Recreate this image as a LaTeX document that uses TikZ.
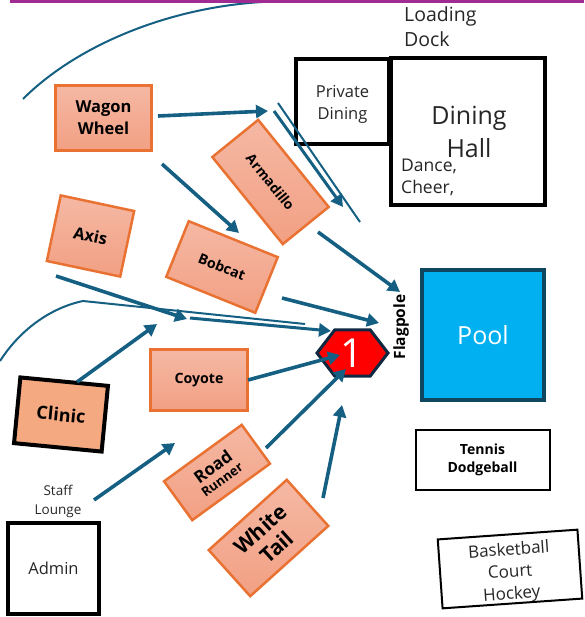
\documentclass[tikz,border=0pt]{standalone}
\usepackage{fontspec}
\setmainfont{Open Sans}
\usetikzlibrary{arrows.meta,shapes.geometric}
\definecolor{flow}{HTML}{156082}
\definecolor{orangeedge}{HTML}{E97132}
\definecolor{salmontop}{HTML}{F5B8A4}
\definecolor{salmonbot}{HTML}{F2A083}
\definecolor{pooledge}{HTML}{0F4761}
\definecolor{poolfill}{HTML}{00B0F0}
\definecolor{clinicfill}{HTML}{F4A980}
\definecolor{hexedge}{HTML}{0E2841}
\definecolor{band}{HTML}{A02B93}
\newcommand{\fs}[2]{\fontsize{#1}{#2}\selectfont}
\tikzset{
  site/.style={draw=orangeedge,line width=2.5pt,top color=salmontop,bottom color=salmonbot,inner sep=0pt,align=center,text=black},
  bldg/.style={draw=black,line width=4pt,fill=white,inner sep=0pt,align=center,text=black!85},
  plain/.style={inner sep=0pt,align=left,text=black!85},
  flowarrow/.style={draw=flow,line width=3.6pt,-{Triangle[length=12pt,width=13pt]}},
  flowthin/.style={draw=flow,line width=3pt,-{Triangle[length=12pt,width=13pt]}},
  flowline/.style={draw=flow,line width=2pt},
}
\begin{document}
\begin{tikzpicture}[x=1pt,y=-1pt]
\useasboundingbox (0,0) rectangle (584,617);
% buildings
\node[bldg,minimum width=93pt,minimum height=85pt,font=\fs{16.5}{22}] (private) at (342.5,101.5) {\rule{0pt}{17pt}Private\\Dining};
\node[bldg,minimum width=154pt,minimum height=147pt] (dining) at (468,132) {};
\node[inner sep=0pt,align=center,text=black!85,font=\fs{25}{33}] (diningtext) at (469,132) {Dining\\Hall};
\node[plain,font=\fs{17.5}{22},anchor=west] (dance) at (401,177.5) {Dance,\\Cheer,};
\node[plain,font=\fs{19.5}{25},anchor=west] (loading) at (404,27) {Loading\\Dock};
\node[draw=pooledge,line width=3.2pt,fill=poolfill,minimum width=122pt,minimum height=130pt,text=white,font=\fs{25}{28},inner sep=0pt] (pool) at (483,335) {Pool};
\node[draw=black,line width=2pt,fill=white,minimum width=134pt,minimum height=60pt,inner sep=0pt,align=center,font=\bfseries\fs{14}{18}] (tennis) at (482.5,459.5) {Tennis\\Dodgeball};
\node[draw=black,line width=2pt,fill=white,minimum width=140pt,minimum height=64pt,inner sep=0pt,align=center,rotate=4,text=black!85,font=\fs{17}{22}] (basket) at (510,569) {\rule{0pt}{21pt}Basketball\\Court\\Hockey};
\node[bldg,minimum width=91pt,minimum height=91pt,font=\fs{16.5}{18}] (admin) at (53.5,568.5) {Admin};
\node[inner sep=0pt,align=center,text=black!85,font=\fs{13.5}{19}] (staff) at (58,501.5) {Staff\\Lounge};
% orange sites
\node[site,minimum width=96pt,minimum height=65pt,font=\bfseries\fs{16.5}{22}] (wagon) at (103.5,118) {Wagon\\Wheel};
\node[site,minimum width=112pt,minimum height=59pt,rotate=-51,font=\bfseries\fs{13.8}{15}] (armadillo) at (270.5,182) {Armadillo};
\node[site,minimum width=75pt,minimum height=67pt,rotate=-12,font=\bfseries\fs{16.4}{18}] (axis) at (90.5,236) {Axis};
\node[site,minimum width=96pt,minimum height=60pt,rotate=-22,font=\bfseries\fs{14.2}{15}] (bobcat) at (222,267) {Bobcat};
\node[site,minimum width=97pt,minimum height=61pt,font=\bfseries\fs{14.2}{15}] (coyote) at (199,380) {Coyote};
\node[draw=black,line width=4pt,fill=clinicfill,minimum width=88pt,minimum height=66pt,rotate=-5.5,inner sep=0pt,font=\bfseries\fs{18}{20}] (clinic) at (61,414.5) {Clinic};
\node[site,minimum width=96pt,minimum height=48pt,rotate=36,font=\bfseries\fs{17}{15}] (road) at (217,472.5) {Road\\[-1pt]{\fs{13}{13}Runner}};
\node[site,minimum width=105pt,minimum height=62pt,rotate=42,font=\bfseries\fs{21}{24}] (white) at (268.5,538) {White\\Tail};
% flagpole marker
\node[regular polygon,regular polygon sides=6,draw=hexedge,line width=3pt,fill=red,minimum size=71pt,inner sep=0pt,yscale=0.75] (hex) at (352.5,353) {};
\node[inner sep=0pt,text=white,font=\fs{40}{44}] (one) at (352,353) {1};
\node[inner sep=0pt,rotate=90,font=\bfseries\fs{15.5}{16},text=black] (flag) at (401,327) {Flagpole};
% free ends
\coordinate (a1s) at (158,116); \coordinate (a1e) at (268,111);
\coordinate (a2s) at (162,164); \coordinate (a2e) at (239,233);
\coordinate (a3s) at (274,111); \coordinate (a3e) at (343,207);
\coordinate (l1s) at (278,103); \coordinate (l1e) at (360,222);
\coordinate (a4s) at (318,232); \coordinate (a4e) at (400,292);
\coordinate (a5s) at (282,298); \coordinate (a5e) at (379,323);
\coordinate (a6s) at (56,276); \coordinate (a6e) at (187,319);
\coordinate (a7s) at (190,318); \coordinate (a7e) at (331,331);
\coordinate (l2s) at (0,361); \coordinate (l2m) at (83,301); \coordinate (l2e) at (305,324);
\coordinate (a8s) at (77,382); \coordinate (a8e) at (157,324);
\coordinate (a9s) at (94,500); \coordinate (a9e) at (175,443);
\coordinate (a10s) at (248,380); \coordinate (a10e) at (340,355);
\coordinate (a11s) at (266,448); \coordinate (a11e) at (346,369);
\coordinate (a12s) at (323,498); \coordinate (a12e) at (342,405);
\coordinate (arcs) at (23,99); \coordinate (arce) at (262,2);
% connectors
\draw[flowline] (arcs) .. controls (75,47) and (165,8) .. (arce);
\draw[flowline] (l2s) .. controls (20,330) and (50,308) .. (l2m) -- (l2e);
\draw[flowline] (l1s) -- (l1e);
\foreach \n in {a1,a2,a4,a5,a6,a8,a9,a10,a11,a12}
  \draw[flowarrow] (\n s) -- (\n e);
\foreach \n in {a3,a7}
  \draw[flowthin] (\n s) -- (\n e);
% top band
\fill[band] (10,0) rectangle (584,3.5);
\end{tikzpicture}
\end{document}
